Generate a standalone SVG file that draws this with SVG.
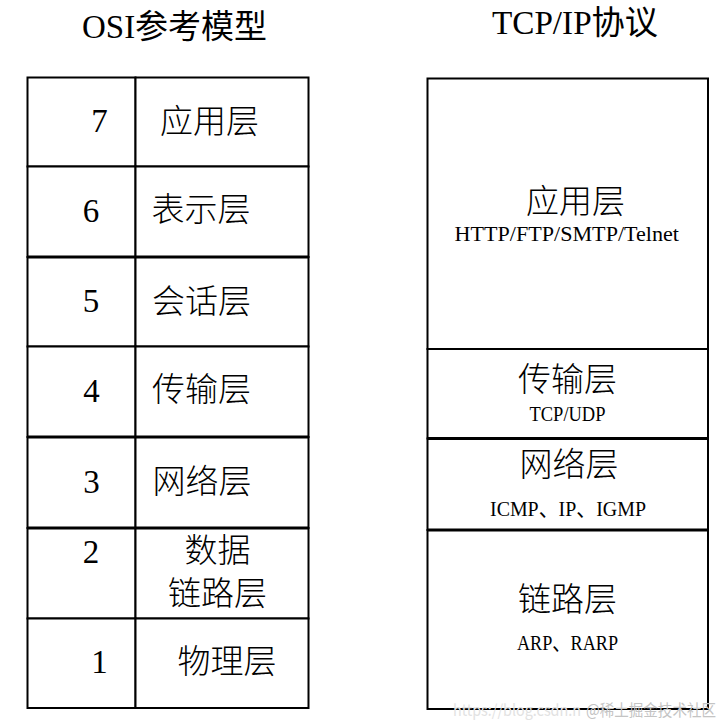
<svg xmlns="http://www.w3.org/2000/svg" width="726" height="726" viewBox="0 0 726 726">
<style>
.cell{fill:#fff;stroke:#000;stroke-width:2}
.thick{stroke:#000;stroke-width:3}
.t{font-family:"Liberation Serif","Noto Sans CJK SC",serif;fill:#000}
.cjk{font-family:"Noto Sans CJK SC",sans-serif;font-size:33px;fill:#000;font-weight:300}
.num{font-family:"Liberation Serif",serif;font-size:33px;fill:#000;text-anchor:middle}
.lat{font-family:"Liberation Serif","Noto Sans CJK SC",serif;font-size:21.5px;fill:#000}
.wm{font-family:"Noto Sans CJK SC",sans-serif;font-size:16px}
</style>
<rect width="726" height="726" fill="#fff"/>
<g id="titles">
<text class="t" x="82" y="38" font-size="33" textLength="185" lengthAdjust="spacingAndGlyphs">OSI参考模型</text>
<text class="t" x="492" y="33.5" font-size="33" textLength="166" lengthAdjust="spacingAndGlyphs">TCP/IP协议</text>
</g>
<g id="osi">
<g id="osi7"><rect class="cell" x="27.5" y="77.5" width="108" height="89"/><rect class="cell" x="135.5" y="77.5" width="173" height="89"/>
<text class="num" x="99.5" y="131.5">7</text><text class="cjk" x="160" y="132.5">应用层</text></g>
<g id="osi6"><rect class="cell" x="27.5" y="166.5" width="108" height="90.5"/><rect class="cell" x="135.5" y="166.5" width="173" height="90.5"/>
<text class="num" x="91" y="221.5">6</text><text class="cjk" x="151.5" y="221">表示层</text></g>
<g id="osi5"><rect class="cell" x="27.5" y="257" width="108" height="89.5"/><rect class="cell" x="135.5" y="257" width="173" height="89.5"/>
<text class="num" x="91" y="311.5">5</text><text class="cjk" x="152" y="313">会话层</text></g>
<g id="osi4"><rect class="cell" x="27.5" y="346.5" width="108" height="90.5"/><rect class="cell" x="135.5" y="346.5" width="173" height="90.5"/>
<text class="num" x="91.5" y="401.5">4</text><text class="cjk" x="152" y="401">传输层</text></g>
<g id="osi3"><rect class="cell" x="27.5" y="437" width="108" height="91"/><rect class="cell" x="135.5" y="437" width="173" height="91"/>
<text class="num" x="91.5" y="492.5">3</text><text class="cjk" x="152.5" y="492.5">网络层</text></g>
<g id="osi2"><rect class="cell" x="27.5" y="528" width="108" height="90.5"/><rect class="cell" x="135.5" y="528" width="173" height="90.5"/>
<text class="num" x="91" y="563">2</text><text class="cjk"><tspan x="184.5" y="561.5">数据</tspan><tspan x="168" y="604.5">链路层</tspan></text></g>
<g id="osi1"><rect class="cell" x="27.5" y="618.5" width="108" height="89.5"/><rect class="cell" x="135.5" y="618.5" width="173" height="89.5"/>
<text class="num" x="99.5" y="672.5">1</text><text class="cjk" x="177.5" y="673">物理层</text></g>
<line class="thick" x1="27.5" y1="257" x2="308.5" y2="257"/>
<line class="thick" x1="27.5" y1="437" x2="308.5" y2="437"/>
<line class="thick" x1="27.5" y1="528" x2="308.5" y2="528"/>
</g>
<g id="tcpip">
<g id="app"><rect class="cell" x="427.5" y="78.5" width="280.5" height="270.5"/>
<text class="cjk" x="526" y="212.5">应用层</text>
<text class="lat" x="454.5" y="240.5" textLength="224.5" lengthAdjust="spacingAndGlyphs">HTTP/FTP/SMTP/Telnet</text></g>
<g id="transport"><rect class="cell" x="427.5" y="349" width="280.5" height="89.5"/>
<text class="cjk" x="518" y="390.5">传输层</text>
<text class="lat" x="529.5" y="421" textLength="76" lengthAdjust="spacingAndGlyphs">TCP/UDP</text></g>
<g id="network"><rect class="cell" x="427.5" y="438.5" width="280.5" height="91.5"/>
<text class="cjk" x="519.5" y="475.5">网络层</text>
<text class="lat" x="490" y="516" textLength="156" lengthAdjust="spacingAndGlyphs">ICMP、IP、IGMP</text></g>
<g id="link"><rect class="cell" x="427.5" y="530" width="280.5" height="179"/>
<text class="cjk" x="518" y="610.5">链路层</text>
<text class="lat" x="517" y="650" textLength="101" lengthAdjust="spacingAndGlyphs">ARP、RARP</text></g>
<line class="thick" x1="427.5" y1="438.5" x2="708" y2="438.5"/>
<line class="thick" x1="427.5" y1="530" x2="708" y2="530"/>
</g>
<g id="connectors"/>
<g id="watermark">
<text class="wm" x="453" y="716" fill="#e2e2e2" textLength="128" lengthAdjust="spacingAndGlyphs">https://blog.csdn.n</text>
<text class="wm" x="586" y="716" fill="#c4c4c4" textLength="130" lengthAdjust="spacingAndGlyphs">@稀土掘金技术社区</text>
</g>
</svg>
